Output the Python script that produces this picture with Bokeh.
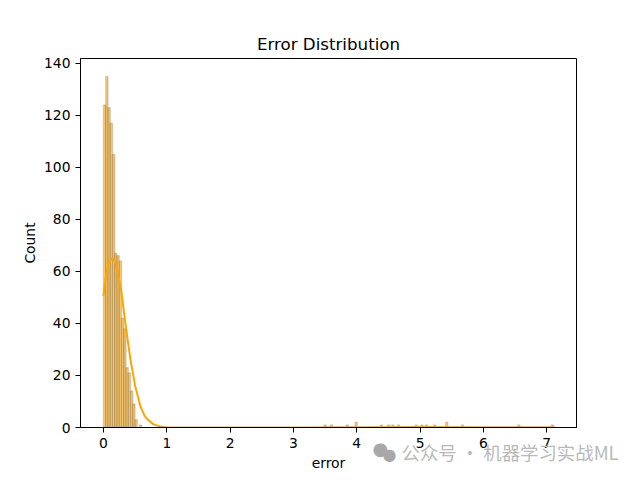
from bokeh.plotting import figure
from bokeh.models import Label, FixedTicker, Range1d
from bokeh.embed import file_html
from bokeh.resources import INLINE

bin_width = 0.0356
near_counts = [124,135,123,117,105,67,66,64,42,38,23,21,14,9,3]
hist_left = [i*bin_width for i in range(len(near_counts))]
far_bins = [0.585,3.5,3.6,3.85,3.99,4.39,4.5,4.57,4.66,4.94,5.03,5.1,5.23,5.42,5.67,6.56,7.09]
far_counts = [1,1,1,1,2,1,1,1,1,1,1,1,1,2,1,1,1]
kde_x = [0,0.03,0.06,0.1,0.14,0.18,0.22,0.28,0.336,0.38,0.427,0.5,0.585,0.65,0.7,0.79,0.9,1.0,1.2,2,3,4,5,6,7.13]
kde_y = [50.5,57,61.5,64.3,65,63.8,60,52.7,42,34,26,16,8,4.5,3,1.2,0.35,0.1,0.02,0,0,0.1,0.15,0.1,0.05]
x_ticks=[0,1,2,3,4,5,6,7]
y_ticks=[0,20,40,60,80,100,120,140]

p = figure(width=624,height=472,frame_width=496,frame_height=369,output_backend="svg",toolbar_location=None,
           x_range=Range1d(-0.363,7.47),y_range=Range1d(0,141.9),
           min_border_left=80,min_border_right=48,min_border_top=58,min_border_bottom=45,
           title="Error Distribution")
p.title.align="center"; p.title.text_font="DejaVu Sans"; p.title.text_font_size="16.67px"
p.title.text_font_style="normal"; p.title.text_color="black"; p.title.standoff=9
p.grid.visible=False
p.outline_line_color="black"; p.outline_line_width=1
lefts=hist_left+[c-bin_width/2 for c in far_bins]
counts=near_counts+far_counts
p.quad(left=lefts,right=[l+bin_width for l in lefts],bottom=0,top=counts,
       fill_color="orange",fill_alpha=0.55,line_color="black",line_alpha=0.15,line_width=1.5)
p.line(kde_x,kde_y,line_color="orange",line_width=2)
for ax,t in ((p.xaxis[0],x_ticks),(p.yaxis[0],y_ticks)):
    ax.ticker=FixedTicker(ticks=t)
    ax.major_label_text_font="DejaVu Sans"; ax.major_label_text_font_size="13.89px"
    ax.major_label_text_color="black"
    ax.major_tick_in=0; ax.major_tick_out=5; ax.minor_tick_line_color=None
    ax.axis_line_color="black"; ax.major_tick_line_color="black"
    ax.major_label_standoff=5
    ax.axis_label_text_font="DejaVu Sans"; ax.axis_label_text_font_size="13.89px"
    ax.axis_label_text_font_style="normal"; ax.axis_label_text_color="black"
p.xaxis[0].axis_label="error"; p.xaxis[0].axis_label_standoff=4
p.yaxis[0].axis_label="Count"; p.yaxis[0].axis_label_standoff=3
def lab(x,y,t,**k):
    p.add_layout(Label(x=x,y=y,x_units="screen",y_units="screen",text=t,**k),"below")
lab(321,48,"公众号 · 机器学习实战ML",text_font="Noto Sans CJK SC",text_font_size="18.4px",text_color="#b9b9b9",text_align="left",text_baseline="middle")
lab(292,72,"●",text_font="DejaVu Sans",text_font_size="18px",text_color="#a8a8a8",text_align="left",text_baseline="middle")
lab(302,85,"●",text_font="DejaVu Sans",text_font_size="16px",text_color="#a8a8a8",text_align="left",text_baseline="middle")
open("out.html","w").write(file_html(p,INLINE))
